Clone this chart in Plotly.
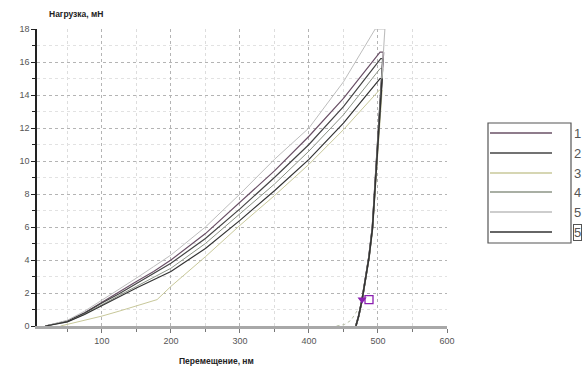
import plotly.graph_objects as go

# ---- data (displacement, nm / load, mN) ----
series_names = ["1", "2", "3", "4", "5", "5"]
series_colors = ["#6a5066", "#444444", "#c8c89a", "#8c9486", "#bdbdbd", "#333333"]

x_load_1 = [18, 30, 50, 75, 100, 125, 150, 175, 200, 250, 300, 350, 400, 450, 503, 508]
y_load_1 = [0, 0.1, 0.3, 0.8, 1.45, 2.05, 2.7, 3.3, 4.0, 5.6, 7.5, 9.4, 11.5, 13.8, 16.6, 16.6]
x_load_2 = [18, 30, 50, 75, 100, 125, 150, 175, 200, 250, 300, 350, 400, 450, 504, 507]
y_load_2 = [0, 0.1, 0.3, 0.78, 1.4, 1.95, 2.55, 3.15, 3.8, 5.3, 7.1, 9.0, 11.0, 13.3, 16.2, 16.2]
x_load_3 = [40, 60, 80, 100, 125, 150, 180, 200, 225, 250, 300, 350, 400, 450, 502, 506]
y_load_3 = [0, 0.2, 0.4, 0.6, 0.9, 1.2, 1.6, 2.4, 3.3, 4.2, 6.1, 7.9, 9.8, 11.9, 14.3, 14.3]
x_load_4 = [18, 30, 50, 75, 100, 125, 150, 175, 200, 250, 300, 350, 400, 450, 503, 507]
y_load_4 = [0, 0.08, 0.25, 0.72, 1.3, 1.85, 2.4, 2.95, 3.5, 5.0, 6.8, 8.6, 10.6, 12.8, 15.6, 15.6]
x_load_5 = [18, 30, 50, 75, 100, 125, 150, 175, 200, 250, 300, 350, 400, 450, 496, 510]
y_load_5 = [0, 0.12, 0.35, 0.9, 1.55, 2.2, 2.9, 3.6, 4.3, 6.0, 8.0, 10.1, 12.0, 14.8, 18.0, 18.0]
x_load_6 = [18, 30, 50, 75, 100, 125, 150, 175, 200, 250, 300, 350, 400, 450, 503, 506]
y_load_6 = [0, 0.08, 0.25, 0.7, 1.25, 1.75, 2.3, 2.8, 3.3, 4.7, 6.4, 8.2, 10.1, 12.3, 15.0, 15.0]

x_unload_1 = [508, 500, 492, 487, 482, 477, 472, 468]
y_unload_1 = [16.6, 11.2, 6.0, 4.2, 2.8, 1.6, 0.6, 0]
x_unload_2 = [507, 499, 492, 487, 482, 477, 472, 468]
y_unload_2 = [16.2, 10.9, 6.0, 4.2, 2.8, 1.6, 0.6, 0]
x_unload_3 = [506, 499, 492, 487, 482, 477, 472, 468]
y_unload_3 = [14.3, 10.0, 5.8, 4.1, 2.75, 1.6, 0.6, 0]
x_unload_4 = [507, 499, 492, 487, 482, 477, 472, 468]
y_unload_4 = [15.6, 10.6, 5.9, 4.15, 2.8, 1.6, 0.6, 0]
x_unload_5 = [510, 501, 492, 487, 482, 477, 472, 468]
y_unload_5 = [18.0, 11.8, 6.0, 4.2, 2.8, 1.6, 0.6, 0]
x_unload_6 = [506, 499, 492, 487, 482, 477, 472, 468]
y_unload_6 = [15.0, 10.3, 5.9, 4.15, 2.8, 1.6, 0.6, 0]

x_tail = [440, 452, 461, 467, 471]
y_tail = [0, 0.1, 0.35, 0.7, 1.0]

marker_x = [477]
marker_y = [1.6]
box_x = [487]
box_y = [1.6]

x_ticks = [100, 200, 300, 400, 500, 600]
y_ticks = [0, 2, 4, 6, 8, 10, 12, 14, 16, 18]

loads = [(x_load_1, y_load_1), (x_load_2, y_load_2), (x_load_3, y_load_3),
         (x_load_4, y_load_4), (x_load_5, y_load_5), (x_load_6, y_load_6)]
unloads = [(x_unload_1, y_unload_1), (x_unload_2, y_unload_2), (x_unload_3, y_unload_3),
           (x_unload_4, y_unload_4), (x_unload_5, y_unload_5), (x_unload_6, y_unload_6)]

dark = ("#444444", "#333333", "#6a5066")

fig = go.Figure()
for i, (lx, ly) in enumerate(loads):
    c = series_colors[i]
    w = 1.2 if c in dark else 1.0
    fig.add_trace(go.Scatter(x=lx, y=ly, mode="lines", line=dict(color=c, width=w),
                             showlegend=False, hoverinfo="skip", cliponaxis=False))
for i, (ux, uy) in enumerate(unloads):
    c = series_colors[i]
    w = 1.6 if c in dark else 1.1
    fig.add_trace(go.Scatter(x=ux, y=uy, mode="lines", line=dict(color=c, width=w),
                             showlegend=False, hoverinfo="skip", cliponaxis=False))
fig.add_trace(go.Scatter(x=x_tail, y=y_tail, mode="lines", line=dict(color="#b8c0a8", width=1, dash="dot"),
                         showlegend=False, hoverinfo="skip"))
fig.add_trace(go.Scatter(x=marker_x, y=marker_y, mode="markers",
                         marker=dict(symbol="triangle-down", size=8, color="#8a1fb0"), showlegend=False))
fig.add_trace(go.Scatter(x=box_x, y=box_y, mode="markers",
                         marker=dict(symbol="square-open", size=8, color="#8a1fb0", line=dict(width=1.3)), showlegend=False))

# plot area in pixels
L, R, T, B = 37, 447, 29, 326
W, H = R - L, B - T

def px(xp):
    return (xp - L) / W

def py(yp):
    return (B - yp) / H

shapes = []
annotations = []
# legend box
shapes.append(dict(type="rect", xref="paper", yref="paper", x0=px(488), x1=px(571), y0=py(243), y1=py(123),
                   line=dict(color="#555555", width=1.2), fillcolor="white", layer="above"))
rows = [133, 153, 173, 192, 212, 232]
for i, name in enumerate(series_names):
    shapes.append(dict(type="line", xref="paper", yref="paper", x0=px(490), x1=px(552), y0=py(rows[i]), y1=py(rows[i]),
                       line=dict(color=series_colors[i], width=1.4), layer="above"))
    annotations.append(dict(text=name, xref="paper", yref="paper", x=px(577), y=py(rows[i]), showarrow=False,
                            xanchor="center", yanchor="middle",
                            font=dict(family="Liberation Sans, Arial", size=13, color="#555555"),
                            bordercolor="#555555" if i == 5 else None, borderwidth=1 if i == 5 else 0,
                            borderpad=0))

annotations.append(dict(text="<b>Нагрузка, мН</b>", xref="paper", yref="paper", x=px(47), y=py(14),
                        xanchor="left", yanchor="middle", showarrow=False,
                        font=dict(family="Liberation Sans, Arial", size=8.5, color="#222222")))
annotations.append(dict(text="<b>Перемещение, нм</b>", xref="paper", yref="paper", x=px(216), y=py(361),
                        xanchor="center", yanchor="middle", showarrow=False,
                        font=dict(family="Liberation Sans, Arial", size=8.5, color="#222222")))

fig.update_layout(
    width=586, height=370,
    margin=dict(l=L, r=586 - R, t=T, b=370 - B),
    paper_bgcolor="white", plot_bgcolor="white",
    shapes=shapes, annotations=annotations,
    font=dict(family="Liberation Sans, Arial", size=9, color="#444444"),
    showlegend=False,
)
fig.update_xaxes(range=[6, 600], tickvals=x_ticks, showgrid=True, gridcolor="#b4b4b4", griddash="dot", gridwidth=1,
                 showline=True, linecolor="#a8a8a8", linewidth=3, ticks="outside", ticklen=4, tickcolor="#777777",
                 zeroline=False, tickfont=dict(size=9, color="#555555"),
                 minor=dict(dtick=50, tick0=0, showgrid=True, gridcolor="#dddddd", griddash="dot", ticks="outside",
                            ticklen=3, tickcolor="#777777"))
fig.update_yaxes(range=[0, 18], tickvals=y_ticks, showgrid=True, gridcolor="#b4b4b4", griddash="dot", gridwidth=1,
                 showline=True, linecolor="#222222", linewidth=1.5, ticks="outside", ticklen=4, tickcolor="#222222",
                 zeroline=False, tickfont=dict(size=9, color="#555555"),
                 minor=dict(dtick=1, tick0=0, showgrid=True, gridcolor="#e2e2e2", griddash="dot", ticks="outside",
                            ticklen=3, tickcolor="#222222"))
fig.write_html("out.html")
